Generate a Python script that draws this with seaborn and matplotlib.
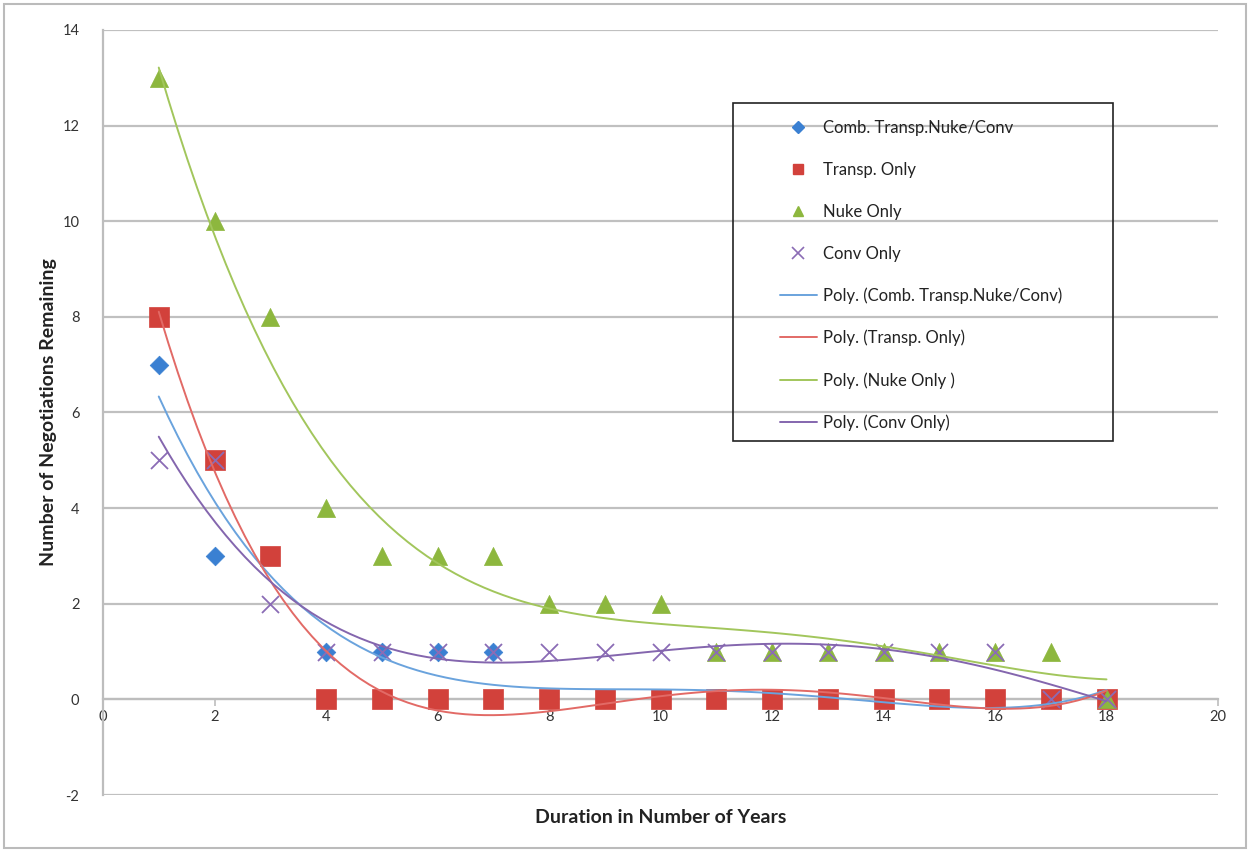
import pandas as pd
import seaborn as sns
import matplotlib.pyplot as plt
from matplotlib.lines import Line2D
from matplotlib.patches import Rectangle

years = list(range(1, 19))
comb = [7, 3, 3, 1, 1, 1, 1, 0, 0, 0, 0, 0, 0, 0, 0, 0, 0, 0]
transp = [8, 5, 3, 0, 0, 0, 0, 0, 0, 0, 0, 0, 0, 0, 0, 0, 0, 0]
nuke = [13, 10, 8, 4, 3, 3, 3, 2, 2, 2, 1, 1, 1, 1, 1, 1, 1, 0]
conv = [5, 5, 2, 1, 1, 1, 1, 1, 1, 1, 1, 1, 1, 1, 1, 1, 0, 0]

names = ["Comb. Transp.Nuke/Conv", "Transp. Only", "Nuke Only", "Conv Only"]
poly_names = ["Poly. (Comb. Transp.Nuke/Conv)", "Poly. (Transp. Only)",
              "Poly. (Nuke Only )", "Poly. (Conv Only)"]
values = [comb, transp, nuke, conv]

marker_colors = ["#3A80D2", "#D2413B", "#8DB73E", "#8B6CB5"]
line_colors = ["#6AA3DD", "#E26A66", "#A2C65C", "#8466AE"]
markers = ["D", "s", "^", "x"]
sizes = [90, 190, 170, 150]

sns.set_style("white")
plt.rcParams["font.family"] = ["Lato", "DejaVu Sans"]
plt.rcParams["axes.unicode_minus"] = False

fig = plt.figure(figsize=(12.5, 8.51), dpi=100)
ax = fig.add_axes([0.0824, 0.0658, 0.892, 0.899])

for name, vals, col, m, s in zip(names, values, marker_colors, markers, sizes):
    df = pd.DataFrame({"x": years, "y": vals})
    if m == "x":
        sns.scatterplot(data=df, x="x", y="y", ax=ax, marker=m, s=s,
                        color=col, linewidth=1.3, zorder=4)
    else:
        sns.scatterplot(data=df, x="x", y="y", ax=ax, marker=m, s=s,
                        color=col, edgecolor=col, linewidth=0.5, zorder=3)

# polynomial trendlines (order 4)
for vals, col in zip(values, line_colors):
    df = pd.DataFrame({"x": years, "y": vals})
    sns.regplot(data=df, x="x", y="y", ax=ax, order=4, ci=None,
                scatter=False, truncate=True,
                line_kws={"color": col, "linewidth": 1.4, "zorder": 5})

ax.set_xlim(0, 20)
ax.set_ylim(-2, 14)
ax.set_xticks(range(0, 21, 2))
ax.set_yticks(range(-2, 15, 2))
ax.yaxis.grid(True, color="#C0C0C0", linewidth=1.6)
ax.xaxis.grid(False)
ax.set_axisbelow(True)

for side in ["top", "right"]:
    ax.spines[side].set_visible(False)
ax.spines["left"].set_color("#BDBDBD")
ax.spines["left"].set_linewidth(1.6)
ax.spines["bottom"].set_position(("data", 0))
ax.spines["bottom"].set_color("#BDBDBD")
ax.spines["bottom"].set_linewidth(1.6)

ax.tick_params(axis="both", which="both", direction="out", length=5,
               width=1.2, color="#BDBDBD", labelsize=10.5,
               labelcolor="#333333")
ax.tick_params(axis="y", pad=12)
ax.tick_params(axis="x", bottom=True, pad=3)

ax.set_xlabel("Duration in Number of Years", fontsize=14, fontweight="bold",
              color="#222222")
ax.xaxis.set_label_coords(0.5, -0.018)
ax.set_ylabel("Number of Negotiations Remaining", fontsize=14,
              fontweight="bold", color="#222222")
ax.yaxis.set_label_coords(-0.041, 0.5)

handles = []
for col, m in zip(marker_colors, markers):
    if m == "x":
        handles.append(Line2D([], [], linestyle="none", marker=m, color=col,
                              markersize=8, markeredgewidth=1.2))
    else:
        handles.append(Line2D([], [], linestyle="none", marker=m, color=col,
                              markersize=7 if m != "D" else 6))
for col in line_colors:
    handles.append(Line2D([], [], color=col, linewidth=1.4))

leg = ax.legend(handles, names + poly_names, loc="upper left",
                bbox_to_anchor=(780 / 1250, 1 - 120 / 851),
                bbox_transform=fig.transFigure, frameon=False,
                fontsize=12, labelspacing=1.55, borderpad=0,
                handlelength=2.2, handletextpad=0.4, borderaxespad=0)
for t in leg.get_texts():
    t.set_color("#222222")

# legend frame
fig.patches.append(Rectangle((733 / 1250, 1 - 441 / 851), 380 / 1250,
                             338 / 851, transform=fig.transFigure,
                             fill=False, edgecolor="#222222", linewidth=1.2,
                             zorder=10))

# outer chart border
fig.patches.append(Rectangle((0.003, 0.003), 0.994, 0.992,
                             transform=fig.transFigure, fill=False,
                             edgecolor="#BBBBBB", linewidth=1.5))

fig.savefig("out.png", dpi=100)
